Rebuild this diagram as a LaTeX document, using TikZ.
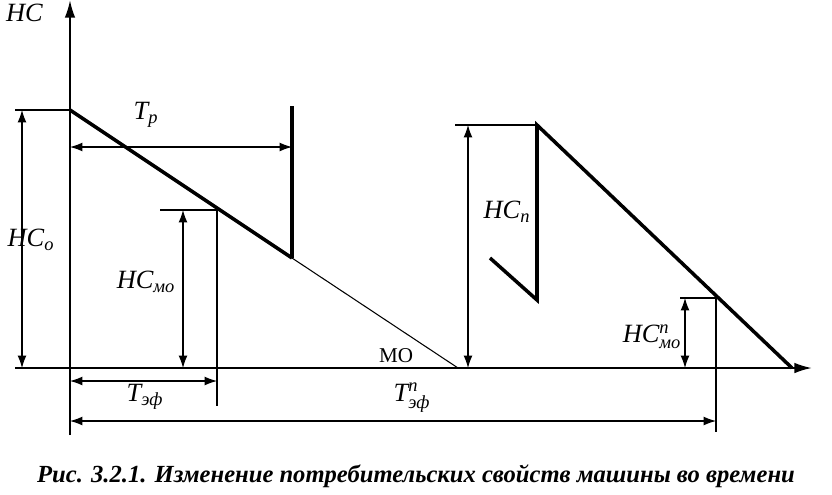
\documentclass[tikz,border=0pt]{standalone}
\usepackage{amsmath}
\usepackage{fontspec}
\setmainfont{Liberation Serif}
\usetikzlibrary{arrows.meta}

\begin{document}
\begin{tikzpicture}[
    x=0.02cm, y=-0.02cm,
    every node/.style={font=\itshape\fontsize{15}{17}\selectfont},
    thin line/.style={line width=0.6pt},
    thick line/.style={line width=2pt},
    dim/.style={{Latex[length=7pt,width=5pt]}-{Latex[length=7pt,width=5pt]}, line width=0.6pt},
    axis/.style={-{Latex[length=10pt,width=6pt]}, line width=1.2pt}
]
\useasboundingbox (0,0) rectangle (832,494);

% Axes
\coordinate (o) at (70,368);
\coordinate (ytop) at (70,0);
\coordinate (xend) at (812,368);
\draw[axis] (70,435) -- (ytop);
\draw[axis] (15,368) -- (xend);
\node[anchor=north west, inner sep=1pt] (lHC) at (4,2) {НС};

% First cycle
\coordinate (a0) at (70,110);
\coordinate (a1) at (292,258);
\coordinate (mo) at (458,368);
\coordinate (p1) at (217,210);
\draw[thin line] (15,110) -- (a0);
\draw[thick line] (a0) -- (a1);
\draw[thin line] (a1) -- (mo);
\draw[thick line] (292,106) -- (a1);
\node (lMO) at (396,356) {\upshape\fontsize{12}{14}\selectfont МО};

\draw[dim] (70,147) -- (292,147);
\node (lTp) at (146,115) {T$_{\text{\itshape p}}$};
\draw[dim] (22,110) -- (22,368);
\node (lHCo) at (31,240) {НС$_{\text{\itshape o}}$};
\draw[thin line] (160,210) -- (p1) -- (217,406);
\draw[dim] (183,210) -- (183,368);
\node (lHCmo) at (146,282) {НС$_{\text{\itshape мо}}$};
\draw[dim] (70,381) -- (217,381);
\node (lTef) at (145,397) {T$_{\text{\itshape эф}}$};

% Second cycle
\coordinate (b0) at (490,258);
\coordinate (b1) at (537,300);
\coordinate (b2) at (537,125);
\coordinate (b3) at (792,368);
\coordinate (p2) at (716,298);
\draw[thick line] (b0) -- (b1) -- (b2) -- (b3);
\draw[thin line] (455,125) -- (b2);
\draw[dim] (468,125) -- (468,368);
\node (lHCn) at (507,212) {НС$_{\text{\itshape n}}$};
\draw[thin line] (680,298) -- (p2) -- (716,432);
\draw[dim] (685,298) -- (685,368);
\node (lHCmon) at (652,337) {НС$^{\text{\itshape n}}_{\text{\itshape мо}}$};
\draw[dim] (70,421) -- (716,421);
\node (lTefn) at (412,398) {T$^{\text{\itshape n}}_{\text{\itshape эф}}$};

% Caption
\node (cap) at (416,476) {\bfseries\itshape\fontsize{14}{16}\selectfont Рис. 3.2.1. Изменение потребительских свойств машины во времени};
\end{tikzpicture}
\end{document}
